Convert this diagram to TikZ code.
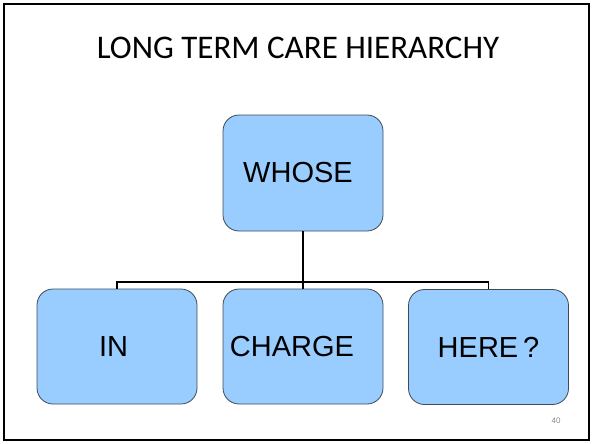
\documentclass[tikz,border=0pt]{standalone}
\usepackage{fontspec}
\setmainfont{Liberation Sans}
\newfontfamily\titlefont{Carlito}
\begin{document}
\begin{tikzpicture}[x=1pt,y=-1pt,
  box/.style={draw=boxedge, line width=0.8pt, fill=boxfill, rounded corners=16pt,
    minimum width=160pt, minimum height=116pt, inner sep=0pt,
    font=\fontsize{29}{33}\selectfont},
  conn/.style={draw=black, line width=1.6pt}]
\definecolor{boxfill}{HTML}{99CCFF}
\definecolor{boxedge}{HTML}{3F4A58}
\definecolor{pagenum}{HTML}{8C8C8C}
\useasboundingbox (0,0) rectangle (592,444);
\draw[line width=2pt] (4,4) rectangle (589,440);
\node[font=\titlefont\fontsize{33}{38}\selectfont] (title) at (298,48) {LONG TERM CARE HIERARCHY};
\node[box] (whose) at (303,173) {\hspace*{-10pt}WHOSE};
\node[box, minimum height=115pt] (in) at (117,346.5) {\hspace*{-7pt}IN};
\node[box, minimum height=115pt] (charge) at (303,346.5) {\hspace*{-22pt}CHARGE};
\node[box, minimum height=115pt] (here) at (488.5,347) {HERE\,?};
\node[font=\fontsize{8}{9}\selectfont, text=pagenum] (num) at (556,421) {40};
\coordinate (j) at (303,282);
\draw[conn] (whose.south) -- (charge.north);
\draw[conn, line width=1.4pt] (in.north) -- (in.north |- j) -- (here.north |- j) -- (here.north);
\end{tikzpicture}
\end{document}
